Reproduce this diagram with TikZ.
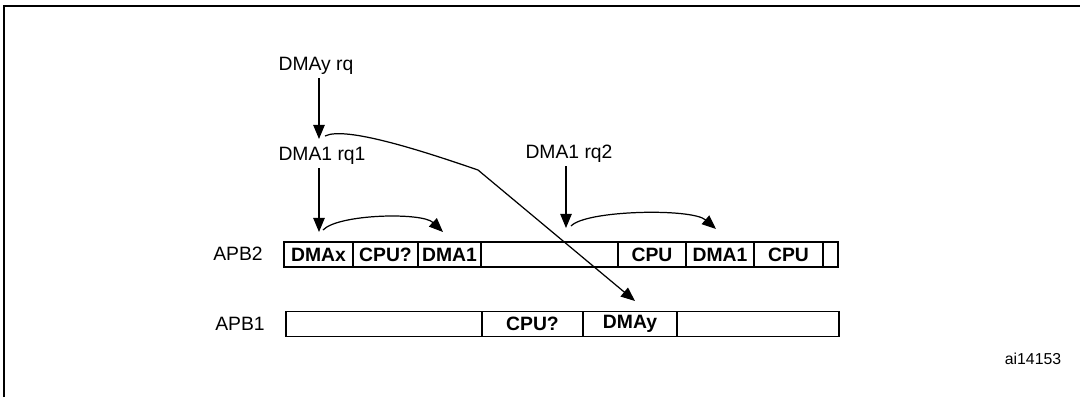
\documentclass[tikz,border=0pt]{standalone}
\usepackage{fontspec}
\setmainfont{Liberation Sans}
\usetikzlibrary{arrows.meta}

\tikzset{
	cell/.style={draw, line width=0.9pt, inner sep=0pt, minimum height=0.5cm, font=\fontsize{11}{13}\selectfont\bfseries},
	lbl/.style={inner sep=0pt, font=\fontsize{11}{13}\selectfont},
}

\begin{document}
\begin{tikzpicture}[x=0.02cm, y=-0.02cm, line width=0.7pt, arrows={-Triangle[length=8pt,width=6.5pt]}]
	\useasboundingbox (0,0) rectangle (1080,397);
	\draw[-, line width=1.2pt] (4,397) -- (4,6) -- (1080,6);
	% requests
	\node[lbl] (qy) at (316,66) {DMAy rq};
	\node[lbl] (q1) at (322,156) {DMA1 rq1};
	\node[lbl] (q2) at (569,154) {DMA1 rq2};
	\coordinate (py) at (319,139);
	\coordinate (p1) at (319,232);
	\coordinate (p2) at (566,228);
	\draw (qy.south -| py) ++(0,3) -- (py);
	\draw (q1.south -| p1) ++(0,3) -- (p1);
	\draw (q2.south -| p2) ++(0,3) -- (p2);
	% APB2
	\node[lbl] (apb2) at (238,254) {APB2};
	\node[cell, minimum width=1.38cm] (b2a) at (318.5,254.5) {DMAx};
	\node[cell, minimum width=1.30cm] (b2b) at (385.5,254.5) {CPU?};
	\node[cell, minimum width=1.26cm] (b2c) at (449.5,254.5) {DMA1};
	\node[cell, minimum width=2.74cm] (b2d) at (549.5,254.5) {};
	\node[cell, minimum width=1.36cm] (b2e) at (652,254.5) {CPU};
	\node[cell, minimum width=1.36cm] (b2f) at (720,254.5) {DMA1};
	\node[cell, minimum width=1.38cm] (b2g) at (788.5,254.5) {CPU};
	\node[cell, minimum width=0.30cm] (b2h) at (830.5,254.5) {};
	% APB1
	\node[lbl] (apb1) at (240,324) {APB1};
	\node[cell, minimum width=3.92cm] (b1a) at (384,324) {};
	\node[cell, minimum width=2.02cm] (b1b) at (532.5,324) {CPU?};
	\node[cell, minimum width=1.88cm] (b1c) at (630,324) {DMAy};
	\node[cell, minimum width=3.24cm] (b1d) at (758,324) {};
	% transfers
	\coordinate (s1) at (323,230);
	\coordinate (e1) at (443,232);
	\coordinate (s2) at (571,226);
	\coordinate (e2) at (716,229);
	\coordinate (sy) at (325,136);
	\coordinate (ky) at (478,170);
	\coordinate (ey) at (635,301);
	\draw (s1) .. controls (338,214) and (422,212) .. (e1);
	\draw (s2) .. controls (586,210) and (692,208) .. (e2);
	\draw (sy) .. controls (345,126) and (420,150) .. (ky) -- (ey);
	\node[inner sep=0pt, font=\fontsize{9}{11}\selectfont] (code) at (1033,359) {ai14153};
\end{tikzpicture}
\end{document}
